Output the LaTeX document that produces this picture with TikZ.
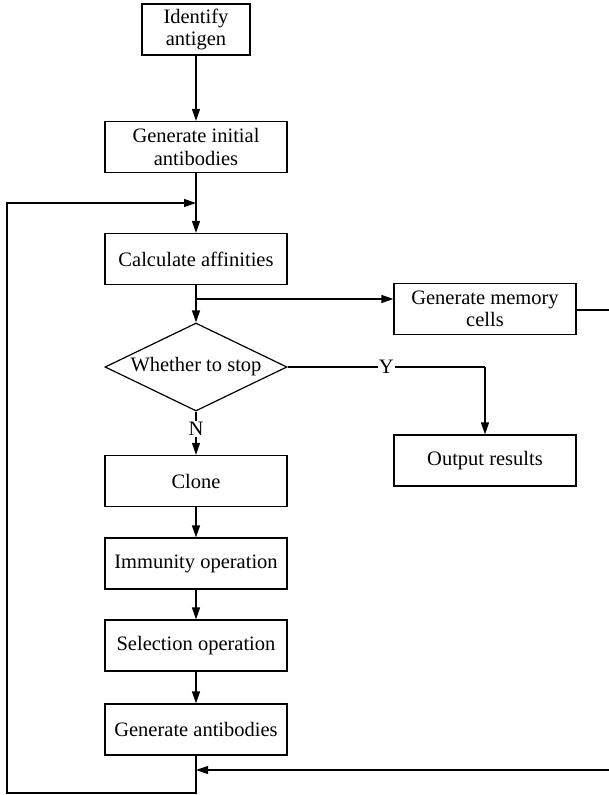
\documentclass[tikz,border=0pt]{standalone}
\usepackage{fontspec}
\setmainfont{Liberation Serif}
\usetikzlibrary{arrows.meta, shapes.geometric}

\tikzset{
    block/.style = {draw, line width=1.2pt, minimum width=182pt, minimum height=51pt,
                    inner sep=0pt, align=center},
    decision/.style = {draw, line width=1.2pt, shape=diamond, aspect=2.07, inner sep=0pt,
                       minimum width=182pt, minimum height=88pt},
    arr/.style = {line width=1.2pt, -{Triangle[length=12pt, width=8pt]}},
    plain/.style = {line width=1.2pt},
    lbl/.style = {fill=white, inner sep=1pt}
}

\begin{document}
\begin{tikzpicture}[x=1pt, y=-1pt, font=\fontsize{20.5}{22.5}\selectfont]
                \useasboundingbox (0,0) rectangle (608,795);
                \def\mx{196}
                \def\rx{485}
                % main column
                \node[block, minimum width=108pt] (ident) at (\mx,29.5) {Identify\\antigen};
                \node[block] (init) at (\mx,147) {Generate initial\\antibodies};
                \node[block] (calc) at (\mx,259) {Calculate affinities};
                \node[decision] (stop) at (\mx,367) {Whether to stop};
                \node[block] (clone) at (\mx,481) {Clone};
                \node[block] (immun) at (\mx,563.5) {Immunity operation};
                \node[block] (select) at (\mx,645.5) {Selection operation};
                \node[block] (genab) at (\mx,729.5) {Generate antibodies};
                % right column
                \node[block] (memory) at (\rx,309) {Generate memory\\cells};
                \node[block] (output) at (\rx,460.5) {Output results};
                % joints
                \coordinate (join) at (\mx,203);
                \coordinate (split) at (\mx,299);
                \coordinate (back) at (\mx,770);
                \coordinate (turn) at (\rx,367);

                \draw[arr] (ident) -- (init);
                \draw[plain] (init) -- (join);
                \draw[arr] (join) -- (calc);
                \draw[plain] (calc) -- (split);
                \draw[arr] (split) -- (stop);
                \draw[arr] (split) -- (memory.west |- split);
                \draw[plain] (stop.east) -- (turn) node[lbl, pos=0.5] {Y};
                \draw[arr] (turn) -- (output);
                \draw[arr] (stop.south) -- (clone) node[lbl, pos=0.4] {N};
                    \foreach \a/\b in {clone/immun, immun/select, select/genab} {
                        \draw[arr] (\a) -- (\b);
                    }
                % loop back to the top
                \draw[arr] (genab.south) -- (\mx,793) -- (7,793) -- (7,203) -- (join);
                \draw[arr] (memory.east |- 0,310) -- (610,310) -- (610,770) -- (back);
            \end{tikzpicture}
\end{document}
